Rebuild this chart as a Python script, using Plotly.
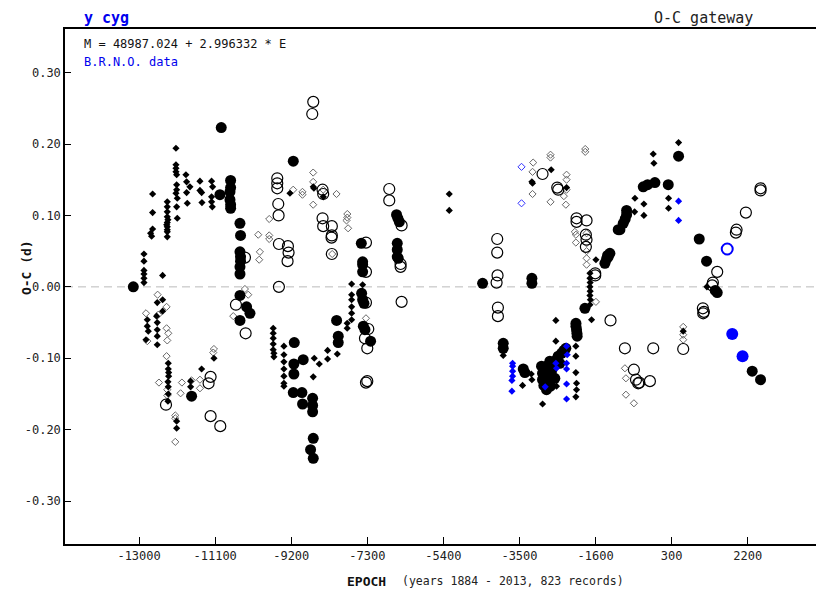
import plotly.graph_objects as go

# ---------------- data (epoch, O-C in days) ----------------
fill_big_E = [-13144, -10948, -10981, -10714, -10714, -10730, -10730, -10714, -10714,
              -10481, -10466, -10480, -10466, -10466, -10480, -10480, -10480, -10315, -10231, -10480,
              -9149, -9124, -9134, -9134, -8901, -9149, -8933, -8917, -8666, -8666, -8666,
              -8650, -8717, -8650, -8067, -8026, -8026, -11688,
              -7450, -7417, -7417, -7417, -7442, -7417, -7384, -7400, -7359, -7218,
              -6570, -6537, -6500, -6552, -6552, -6552, -6527,
              -4421, -3190, -3190, -3906, -3906, -3405, -3365,
              -2950, -2925, -2925, -2891, -2825, -2808, -2783, -2742, -2700, -2658, -2617, -2575,
              -2534, -2492, -2450, -2392, -2342, -2825, -2725,
              -2090, -2065, -2075, -2090, -2060, -1866,
              -1284, -1325, -1367, -1243, -1300, -1034, -909, -825, -825, -860, -992,
              -409, -118, 215, -300, 473, 989, 1172, 1438, 1388, 2312, 2520]
fill_big_OC = [0.000, 0.223, 0.129, 0.149, 0.139, 0.133, 0.122, 0.115, 0.110,
               0.089, 0.072, 0.049, 0.042, 0.036, 0.028, 0.018, -0.012, -0.028, -0.037, -0.047,
               0.176, -0.078, -0.108, -0.122, -0.102, -0.148, -0.148, -0.164, -0.156, -0.166, -0.175,
               -0.212, -0.228, -0.240, -0.047, -0.069, -0.078, -0.153,
               0.061, 0.035, 0.031, 0.021, -0.009, -0.018, -0.023, -0.055, -0.060, -0.076,
               0.101, 0.096, 0.091, 0.061, 0.052, 0.042, 0.040,
               0.005, 0.012, 0.005, -0.079, -0.086, -0.115, -0.120,
               -0.111, -0.121, -0.130, -0.138, -0.111, -0.125, -0.135, -0.104, -0.118, -0.111, -0.128, -0.102,
               -0.097, -0.107, -0.093, -0.089, -0.086, -0.144, -0.139,
               -0.055, -0.065, -0.060, -0.051, -0.069, -0.030,
               0.042, 0.039, 0.033, 0.047, 0.044, 0.080, 0.089, 0.101, 0.107, 0.095, 0.080,
               0.140, 0.146, 0.143, 0.143, 0.183, 0.067, 0.036, -0.008, -0.005, -0.118, -0.130]

open_big_E = [-8650, -8675, -9549, -9549, -9549, -9524, -9516, -9508, -9283, -9267, -9292, -9508,
              -10581, -10339, -10356, -12328, -11214, -11264, -11214, -10972,
              -8418, -8402, -8418, -8402, -8186, -8186, -8194, -8186,
              -7334, -7334, -7334, -7276, -7359, -7301, -7334, -7301,
              -6444, -6752, -6752, -6469, -6469, -6444,
              -4056, -4056, -4048, -4072, -4039, -4039,
              -2924, -2557, -2532, -2075, -2075, -1825, -1842, -1826, -1842, -1608, -1608,
              -1227, -867, -160, -643, -535, -243, -590, -509, 589,
              1438, 1330, 1313, 1080, 1088, 1105, 1904, 1921, 2154, 2520, 2520]
open_big_OC = [0.259, 0.242, 0.152, 0.145, 0.138, 0.116, 0.100, 0.060, 0.057, 0.048, 0.036, 0.000,
               -0.025, -0.065, 0.041, -0.165, -0.126, -0.135, -0.181, -0.195,
               0.136, 0.130, 0.096, 0.085, 0.085, 0.072, 0.069, 0.046,
               0.062, 0.021, -0.022, -0.059, -0.072, -0.086, -0.134, -0.132,
               0.086, 0.137, 0.121, 0.032, 0.028, -0.021,
               0.067, 0.048, 0.016, 0.006, -0.029, -0.041,
               0.158, 0.139, 0.136, 0.096, 0.091, 0.093, 0.073, 0.066, 0.056, 0.019, 0.016,
               -0.047, -0.086, -0.086, -0.116, -0.135, -0.132, -0.130, -0.134, -0.087,
               0.021, 0.006, 0.002, -0.030, -0.037, -0.035, 0.076, 0.080, 0.104, 0.138, 0.135]

vis_fill_E = [-12079, -12079, -12079, -12079, -12062, -12062, -12062, -12079, -12046, -12062, -12046,
              -11830, -11813, -11730, -11813, -11796, -11480, -11480, -11438, -11430,
              -11189, -11164, -11189, -11189, -11172,
              -12662, -12662, -12662, -12712, -12687,
              -12878, -12878, -12878, -12878, -12878, -12878, -12412,
              -12296, -12296, -12296, -12296, -12296, -12296, -12296, -12296, -12296, -12310, -12280,
              -12412, -12412, -12546, -12562, -12546, -12546, -12546, -12546,
              -12795, -12795, -12770, -12828,
              -12271, -12271, -12262, -12262, -12279, -12271, -12271, -12279,
              -12062, -12062, -11713, -11713, -11438, -11130,
              -9650, -9650, -9650, -9650, -9650, -9633, -9633,
              -9383, -9383, -9383, -9383, -9383, -9383, -9383,
              -8625, -8500, -8650, -8292, -8292, -8050, -7803, -7803,
              -7692, -7692, -7692, -7692, -7692, -7692,
              -9232, -8650, -8634, -8400, -7417, -5254, -5254, -3906,
              -3423, -3206, -3190, -2923, -2592, -2592, -2575, -2575,
              -2092, -2092, -2092, -2075, -2075, -2092,
              -1740, -1740, -1735, -1740, -1735, -1740, -1730, -1740, -1700, -1591,
              -3190, -3174, -2708, -2324,
              -617, -393, -393, -625, -160, -143, 473, 223, 223, 589, 1180]
vis_fill_OC = [0.194, 0.171, 0.166, 0.161, 0.157, 0.143, 0.136, 0.131, 0.124, 0.112, 0.096,
               0.157, 0.147, 0.140, 0.132, 0.117, 0.148, 0.135, 0.132, 0.118,
               0.148, 0.140, 0.126, 0.119, 0.112,
               0.130, 0.104, 0.081, 0.075, 0.071,
               0.046, 0.036, 0.023, 0.018, 0.012, 0.006, 0.016,
               0.119, 0.112, 0.105, 0.098, 0.090, 0.084, 0.080, 0.077, 0.070, 0.087, 0.094,
               -0.018, -0.034, -0.022, -0.041, -0.050, -0.060, -0.069, -0.081,
               -0.046, -0.055, -0.062, -0.074,
               -0.107, -0.115, -0.120, -0.125, -0.133, -0.140, -0.150, -0.160,
               -0.188, -0.198, -0.132, -0.140, -0.115, -0.100,
               -0.058, -0.065, -0.072, -0.080, -0.088, -0.093, -0.098,
               -0.083, -0.095, -0.105, -0.115, -0.125, -0.135, -0.139,
               -0.100, -0.108, -0.126, -0.089, -0.101, -0.094, -0.058, -0.051,
               0.004, -0.011, -0.018, -0.028, -0.037, -0.046,
               0.131, 0.140, 0.138, 0.126, 0.003, 0.130, 0.107, -0.096,
               -0.138, -0.122, -0.130, -0.164, -0.047, -0.076, -0.130, -0.139,
               -0.083, -0.097, -0.120, -0.135, -0.144, -0.154,
               0.019, 0.012, 0.006, 0.000, -0.006, -0.012, -0.018, -0.025, -0.046, 0.038,
               0.147, 0.145, 0.164, 0.139,
               0.124, 0.116, 0.100, 0.105, 0.186, 0.173, 0.202, 0.124, 0.110, -0.062, 0.000]

vis_open_E = [-12537, -12313, -12828, -12521, -12313, -12271, -12296, -12795, -12313, -12504,
              -12296, -12296, -12096, -12096, -12096, -11930, -11963, -11688, -11480, -11480,
              -11131, -11148, -10357, -10274, -10648, -10024, -9983, -10000, -9750, -9750, -9750,
              -9151, -8920, -8920, -8652, -8652, -8652, -8402, -8069, -7800, -7800, -7820, -7780,
              -8177, -7334,
              -3158, -3174, -3174, -2725, -2725, -2725, -2392, -2342, -2324, -2324, -2324,
              -1858, -1858, -1591, -1824, -1824, -1824, -1824, -1824, -2092, -2092, -2117,
              -867, -842, -842, -642, 589, 589, 589]
vis_open_OC = [-0.011, -0.028, -0.037, -0.039, -0.058, -0.065, -0.075, -0.076, -0.097, -0.134,
               -0.144, -0.152, -0.180, -0.184, -0.217, -0.134, -0.149, -0.131, -0.130, -0.142,
               -0.087, -0.092, -0.003, -0.011, -0.041, 0.073, 0.049, 0.038, 0.095, 0.072, 0.067,
               0.136, 0.133, 0.129, 0.160, 0.147, 0.115, 0.136, 0.130, 0.102, 0.097, 0.093, 0.082,
               0.046, -0.044,
               0.174, 0.161, 0.130, 0.185, 0.181, 0.119, 0.127, 0.115, 0.157, 0.150, 0.136,
               0.193, 0.189, -0.021, 0.075, 0.061, 0.050, 0.040, 0.031, 0.062, 0.073, 0.077,
               -0.114, -0.128, -0.151, -0.163, -0.056, -0.067, -0.074]

blue_vis_fill_E = [-3672, -3672, -3672, -3672, -3689, -3689,
                   -2324, -2308, -2324, -2324, -2324, -2324, -2592, -2575, -2858, 473, 473]
blue_vis_fill_OC = [-0.107, -0.111, -0.118, -0.125, -0.131, -0.146,
                    -0.083, -0.095, -0.107, -0.115, -0.136, -0.157, -0.107, -0.114, -0.140, 0.120, 0.093]

blue_vis_open_E = [-3449, -3449]
blue_vis_open_OC = [0.168, 0.117]

blue_big_fill_E = [1813, 2071]
blue_big_fill_OC = [-0.066, -0.097]

blue_big_open_E = [1688]
blue_big_open_OC = [0.053]

x_ticks = [-13000, -11100, -9200, -7300, -5400, -3500, -1600, 300, 2200]
y_ticks = [0.30, 0.20, 0.10, 0.00, -0.10, -0.20, -0.30]

FONT = "DejaVu Sans Mono"

fig = go.Figure()

def add(xs, ys, symbol, size, color, line_color=None, line_width=0):
    fig.add_trace(go.Scatter(
        x=xs, y=ys, mode="markers", showlegend=False, hoverinfo="skip",
        marker=dict(symbol=symbol, size=size, color=color,
                    line=dict(color=line_color or color, width=line_width))))

add(vis_open_E, vis_open_OC, "diamond-open", 5.5, "#666666", "#666666", 1)
add(blue_vis_open_E, blue_vis_open_OC, "diamond-open", 5.5, "#3333ff", "#3333ff", 1)
add(vis_fill_E, vis_fill_OC, "diamond", 5.5, "black")
add(open_big_E, open_big_OC, "circle-open", 11, "black", "black", 1.2)
add(fill_big_E, fill_big_OC, "circle", 11, "black")
add(blue_vis_fill_E, blue_vis_fill_OC, "diamond", 5.5, "#0000ff")
add(blue_big_open_E, blue_big_open_OC, "circle-open", 11, "#0000ff", "#0000ff", 2)
add(blue_big_fill_E, blue_big_fill_OC, "circle", 12, "#0000ff")

fig.update_layout(
    width=816, height=585,
    margin=dict(l=57, r=2, t=21, b=49),
    paper_bgcolor="white", plot_bgcolor="white",
    font=dict(family=FONT, size=12, color="#222222"),
    xaxis=dict(range=[-14850, 4055], tickvals=x_ticks, ticktext=[str(v) for v in x_ticks],
               showgrid=False, zeroline=False, showline=True, linecolor="black", linewidth=1.5,
               mirror=True, ticks="inside", ticklen=7, tickcolor="black",
               tickfont=dict(family=FONT, size=12)),
    yaxis=dict(range=[-0.36, 0.361], tickvals=y_ticks, ticktext=[f"{v:.2f}" for v in y_ticks],
               showgrid=False, zeroline=False, showline=True, linecolor="black", linewidth=1.5,
               ticks="inside", ticklen=6, tickcolor="black",
               tickfont=dict(family=FONT, size=12)),
    shapes=[
        dict(type="line", xref="paper", yref="y", x0=0, x1=1, y0=0, y1=0,
             line=dict(color="#bbbbbb", width=1, dash="8px,5px"), layer="below"),
        dict(type="line", xref="paper", yref="paper", x0=1, x1=1, y0=0, y1=1,
             line=dict(color="#d8d8d8", width=1)),
    ],
    annotations=[
        dict(text="<b>y cyg</b>", xref="paper", yref="paper", x=0.0225, y=1.043,
             xanchor="left", yanchor="top", showarrow=False,
             font=dict(family=FONT, size=15, color="#0000ee")),
        dict(text="O-C gateway", xref="paper", yref="paper", x=0.776, y=1.043,
             xanchor="left", yanchor="top", showarrow=False,
             font=dict(family=FONT, size=15, color="#222222")),
        dict(text="M = 48987.024 + 2.996332 * E", xref="paper", yref="paper", x=0.0225, y=0.971,
             xanchor="left", yanchor="middle", showarrow=False,
             font=dict(family=FONT, size=12, color="#111111")),
        dict(text="B.R.N.O. data", xref="paper", yref="paper", x=0.0225, y=0.936,
             xanchor="left", yanchor="middle", showarrow=False,
             font=dict(family=FONT, size=12, color="#0000ee")),
        dict(text="<b>O-C (d)</b>", xref="paper", yref="paper", x=-0.050, y=0.536,
             xanchor="center", yanchor="middle", textangle=-90, showarrow=False,
             font=dict(family=FONT, size=13, color="#111111")),
        dict(text="<b>EPOCH</b>", xref="paper", yref="paper", x=0.3705, y=-0.072,
             xanchor="left", yanchor="middle", showarrow=False,
             font=dict(family=FONT, size=13, color="#111111")),
        dict(text="(years 1884 - 2013, 823 records)", xref="paper", yref="paper", x=0.4425, y=-0.072,
             xanchor="left", yanchor="middle", showarrow=False,
             font=dict(family=FONT, size=11.5, color="#222222")),
    ],
)

fig.write_html("out.html")
